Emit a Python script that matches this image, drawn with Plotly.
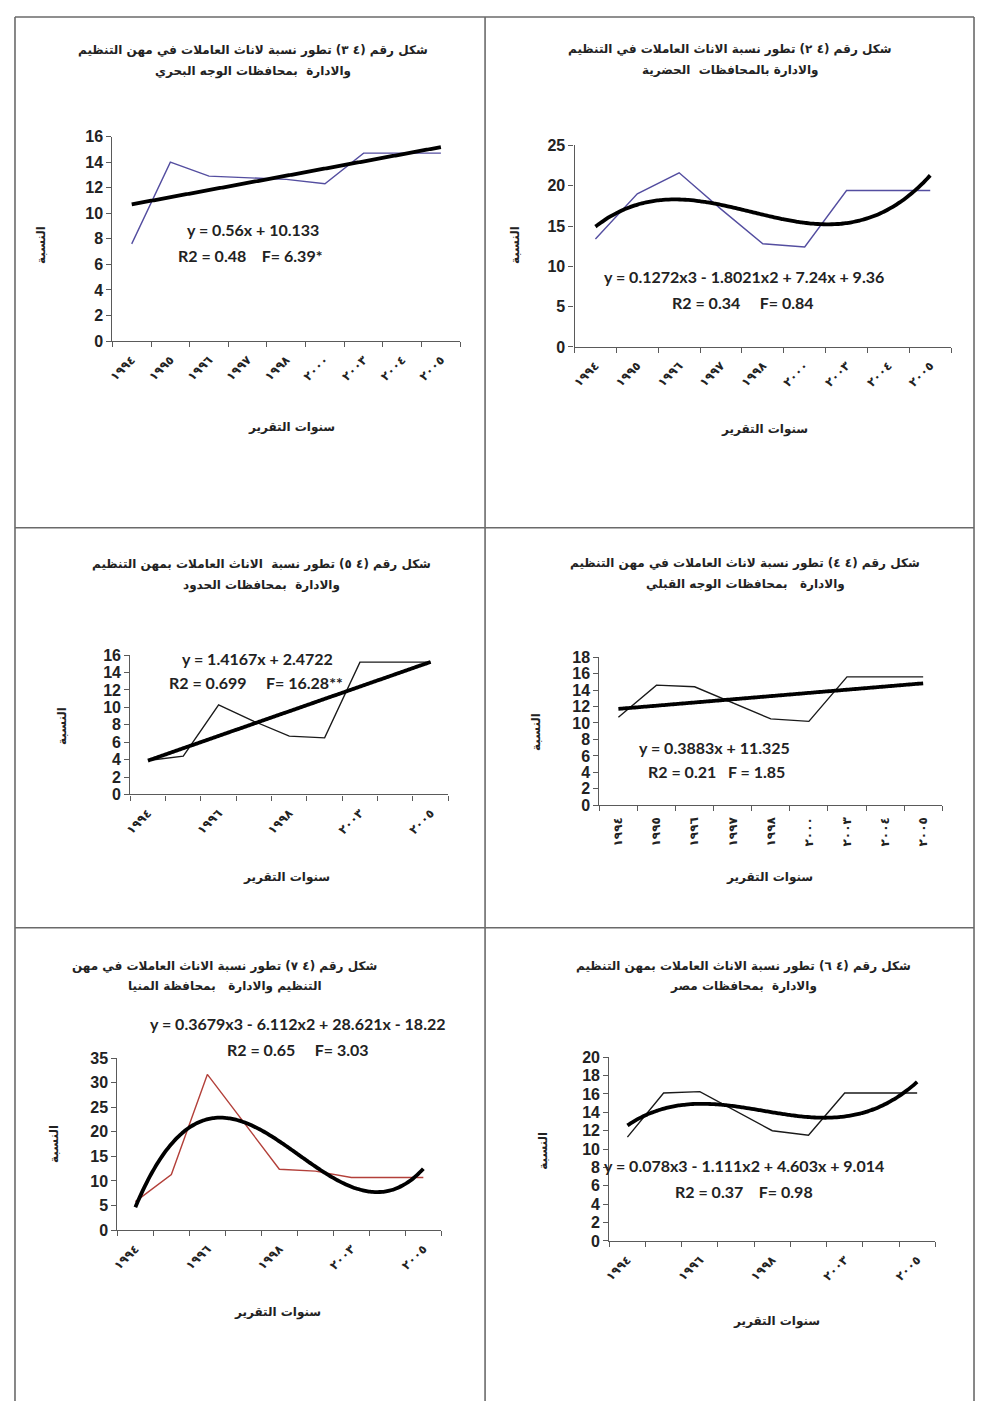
import numpy as np
import plotly.graph_objects as go

# ---------------- data ----------------
years = ["١٩٩٤", "١٩٩٥", "١٩٩٦", "١٩٩٧", "١٩٩٨", "٢٠٠٠", "٢٠٠٣", "٢٠٠٤", "٢٠٠٥"]
x_index = list(range(1, len(years) + 1))

share_42_urban = [13.4, 19.0, 21.6, 17.1, 12.8, 12.4, 19.4, 19.4, 19.4]
share_43_lower = [7.6, 14.0, 12.9, 12.8, 12.65, 12.3, 14.7, 14.7, 14.7]
share_44_upper = [10.7, 14.6, 14.4, 12.4, 10.5, 10.2, 15.6, 15.6, 15.6]
share_45_frontier = [3.9, 4.4, 10.3, 8.4, 6.7, 6.5, 15.2, 15.2, 15.2]
share_46_egypt = [11.3, 16.1, 16.25, 14.1, 12.0, 11.5, 16.1, 16.1, 16.1]
share_47_minya = [5.8, 11.3, 31.7, 22.0, 12.4, 12.0, 10.7, 10.7, 10.7]

# trend-line coefficients as printed on each chart (highest power first)
fit_42 = [0.1272, -1.8021, 7.24, 9.36]
fit_43 = [0.56, 10.133]
fit_44 = [0.3883, 11.325]
fit_45 = [1.4167, 2.4722]
fit_46 = [0.078, -1.111, 4.603, 9.014]
fit_47 = [0.3679, -6.112, 28.621, -18.22]

eq_42 = "y = 0.1272x3 - 1.8021x2 + 7.24x + 9.36"
st_42 = "R2 = 0.34     F= 0.84"
eq_43 = "y = 0.56x + 10.133"
st_43 = "R2 = 0.48    F= 6.39*"
eq_44 = "y = 0.3883x + 11.325"
st_44 = "R2 = 0.21   F = 1.85"
eq_45 = "y = 1.4167x + 2.4722"
st_45 = "R2 = 0.699     F= 16.28**"
eq_46 = "y = 0.078x3 - 1.111x2 + 4.603x + 9.014"
st_46 = "R2 = 0.37    F= 0.98"
eq_47 = "y = 0.3679x3 - 6.112x2 + 28.621x - 18.22"
st_47 = "R2 = 0.65     F= 3.03"

title_42 = ["شكل رقم (٤ ٢) تطور نسبة الاناث العاملات في التنظيم", "والادارة بالمحافظات  الحضرية"]
title_43 = ["شكل رقم (٤ ٣) تطور نسبة لاناث العاملات في مهن التنظيم", "والادارة  بمحافظات الوجه البحري"]
title_44 = ["شكل رقم (٤ ٤) تطور نسبة لاناث العاملات في مهن التنظيم", "والادارة   بمحافظات الوجه القبلي"]
title_45 = ["شكل رقم (٤ ٥) تطور نسبة  الاناث العاملات بمهن التنظيم", "والادارة  بمحافظات الحدود"]
title_46 = ["شكل رقم (٤ ٦) تطور نسبة الاناث العاملات بمهن التنظيم", "والادارة  بمحافظات مصر"]
title_47 = ["شكل رقم (٤ ٧) تطور نسبة الاناث العاملات في مهن", "التنظيم والادارة   بمحافظة المنيا"]

x_title = "سنوات التقرير"
y_title = "النسبة"

# ---------------- layout helpers ----------------
# The page body has an 8px margin, so the figure is sized to fit the
# 984x1418 window exactly; positions below are given in window pixels.
OFF = 8
W, H = 984 - 2 * OFF, 1418 - 2 * OFF


def px(x):
    return (x - OFF) / W


def py(y):
    return 1 - (y - OFF) / H


PURPLE = "#544ea0"
RED = "#b3403a"
BLACK = "#1a1a1a"
AXIS = "#5a5a5a"

panels = [
    dict(data=share_43_lower, fit=fit_43, color=PURPLE, ymax=16, dtick=2,
         xdom=(107, 457), ydom=(130, 337), step=1, angle=-45,
         title=title_43, tpos=(248, 43, 64), eq=eq_43, st=st_43,
         eqpos=(248, 224), stpos=(245, 250), xt=(287, 425), yt=(35, 240)),
    dict(data=share_42_urban, fit=fit_42, color=PURPLE, ymax=25, dtick=5,
         xdom=(572, 951), ydom=(139, 343), step=1, angle=-45,
         title=title_42, tpos=(728, 42, 63), eq=eq_42, st=st_42,
         eqpos=(743, 272), stpos=(742, 298), xt=(763, 427), yt=(512, 240)),
    dict(data=share_45_frontier, fit=fit_45, color=BLACK, ymax=16, dtick=2,
         xdom=(125, 445), ydom=(655, 796), step=2, angle=-45,
         title=title_45, tpos=(257, 563, 584), eq=eq_45, st=st_45,
         eqpos=(253, 658), stpos=(252, 683), xt=(282, 880), yt=(57, 727)),
    dict(data=share_44_upper, fit=fit_44, color=BLACK, ymax=18, dtick=2,
         xdom=(597, 942), ydom=(657, 807), step=1, angle=-90,
         title=title_44, tpos=(744, 562, 583), eq=eq_44, st=st_44,
         eqpos=(713, 748), stpos=(715, 773), xt=(768, 880), yt=(533, 733)),
    dict(data=share_47_minya, fit=fit_47, color=RED, ymax=35, dtick=5,
         xdom=(112, 438), ydom=(1063, 1237), step=2, angle=-45,
         title=title_47, tpos=(220, 970, 990), eq=eq_47, st=st_47,
         eqpos=(294, 1028), stpos=(294, 1054), xt=(273, 1320), yt=(48, 1150)),
    dict(data=share_46_egypt, fit=fit_46, color=BLACK, ymax=20, dtick=2,
         xdom=(607, 935), ydom=(1062, 1248), step=2, angle=-45,
         title=title_46, tpos=(742, 970, 990), eq=eq_46, st=st_46,
         eqpos=(743, 1172), stpos=(743, 1198), xt=(775, 1330), yt=(540, 1157)),
]

fig = go.Figure()
annotations = []
layout_axes = {}

AR_FONT = "DejaVu Sans"
EQ_FONT = "Lato"

for i, p in enumerate(panels, start=1):
    xa = "x" if i == 1 else f"x{i}"
    ya = "y" if i == 1 else f"y{i}"
    # data line
    fig.add_trace(go.Scatter(x=x_index, y=p["data"], mode="lines",
                             line=dict(color=p["color"], width=1.4),
                             xaxis=xa, yaxis=ya, showlegend=False, hoverinfo="skip"))
    # trend line from the printed equation
    xs = np.linspace(x_index[0], x_index[-1], 120)
    ys = np.polyval(p["fit"], xs)
    fig.add_trace(go.Scatter(x=xs, y=ys, mode="lines",
                             line=dict(color="black", width=3.8, shape="spline"),
                             xaxis=xa, yaxis=ya, showlegend=False, hoverinfo="skip"))

    tv = x_index[::p["step"]]
    tt = years[::p["step"]]
    layout_axes["xaxis" if i == 1 else f"xaxis{i}"] = dict(
        domain=[px(p["xdom"][0]), px(p["xdom"][1])],
        anchor=ya, range=[0.5, len(years) + 0.5],
        tickmode="array", tickvals=tv, ticktext=tt, tickangle=p["angle"],
        ticks="", showgrid=False, zeroline=False,
        showline=True, linecolor=AXIS, linewidth=1.2,
        tickfont=dict(family=AR_FONT, size=12, color="#222", weight="bold"),
        ticklabelstandoff=6,
        minor=dict(tick0=0.5, dtick=1, ticks="outside", ticklen=5,
                   tickcolor=AXIS, tickwidth=1.2, showgrid=False),
        fixedrange=True,
    )
    layout_axes["yaxis" if i == 1 else f"yaxis{i}"] = dict(
        domain=[py(p["ydom"][1]), py(p["ydom"][0])],
        anchor=xa, range=[0, p["ymax"]], tick0=0, dtick=p["dtick"],
        ticks="outside", ticklen=5, tickcolor=AXIS, tickwidth=1.2,
        showgrid=False, zeroline=False,
        showline=True, linecolor=AXIS, linewidth=1.2,
        tickfont=dict(family="Liberation Sans", size=16, color="#222", weight="bold"),
        fixedrange=True,
    )

    tx, ty1, ty2 = p["tpos"]
    for txt, yy in ((p["title"][0], ty1), (p["title"][1], ty2)):
        annotations.append(dict(text=txt, x=px(tx), y=py(yy), xref="paper", yref="paper",
                                xanchor="center", yanchor="middle", showarrow=False,
                                font=dict(family=AR_FONT, size=12, color="#222", weight="bold")))
    annotations.append(dict(text=p["eq"], x=px(p["eqpos"][0]), y=py(p["eqpos"][1]),
                            xref="paper", yref="paper", xanchor="center", yanchor="middle",
                            showarrow=False,
                            font=dict(family=EQ_FONT, size=16, color="#222", weight="bold")))
    annotations.append(dict(text=p["st"], x=px(p["stpos"][0]), y=py(p["stpos"][1]),
                            xref="paper", yref="paper", xanchor="center", yanchor="middle",
                            showarrow=False,
                            font=dict(family=EQ_FONT, size=16, color="#222", weight="bold")))
    annotations.append(dict(text=x_title, x=px(p["xt"][0]), y=py(p["xt"][1]),
                            xref="paper", yref="paper", xanchor="center", yanchor="middle",
                            showarrow=False,
                            font=dict(family=AR_FONT, size=12, color="#222", weight="bold")))
    annotations.append(dict(text=y_title, x=px(p["yt"][0]), y=py(p["yt"][1]),
                            xref="paper", yref="paper", xanchor="center", yanchor="middle",
                            showarrow=False, textangle=-90,
                            font=dict(family=AR_FONT, size=12, color="#222", weight="bold")))

# table-like frame lines
BORDER = dict(color="#6a6a6a", width=1.6)
TOP, LEFT, RIGHT, MID_X = 9, 9, 974, 482
ROW1, ROW2 = 526, 931
shapes = [
    dict(type="line", xref="paper", yref="paper", x0=px(LEFT), x1=px(RIGHT), y0=py(TOP), y1=py(TOP), line=BORDER),
    dict(type="line", xref="paper", yref="paper", x0=px(LEFT), x1=px(LEFT), y0=py(TOP), y1=0, line=BORDER),
    dict(type="line", xref="paper", yref="paper", x0=px(RIGHT), x1=px(RIGHT), y0=py(TOP), y1=0, line=BORDER),
    dict(type="line", xref="paper", yref="paper", x0=px(MID_X), x1=px(MID_X), y0=py(TOP), y1=0, line=BORDER),
    dict(type="line", xref="paper", yref="paper", x0=px(LEFT), x1=px(RIGHT), y0=py(ROW1), y1=py(ROW1), line=BORDER),
    dict(type="line", xref="paper", yref="paper", x0=px(LEFT), x1=px(RIGHT), y0=py(ROW2), y1=py(ROW2), line=BORDER),
]

fig.update_layout(
    width=W, height=H,
    margin=dict(l=0, r=0, t=0, b=0),
    paper_bgcolor="white", plot_bgcolor="white",
    annotations=annotations, shapes=shapes,
    **layout_axes,
)

fig.write_html("out.html", config={"displayModeBar": False})
